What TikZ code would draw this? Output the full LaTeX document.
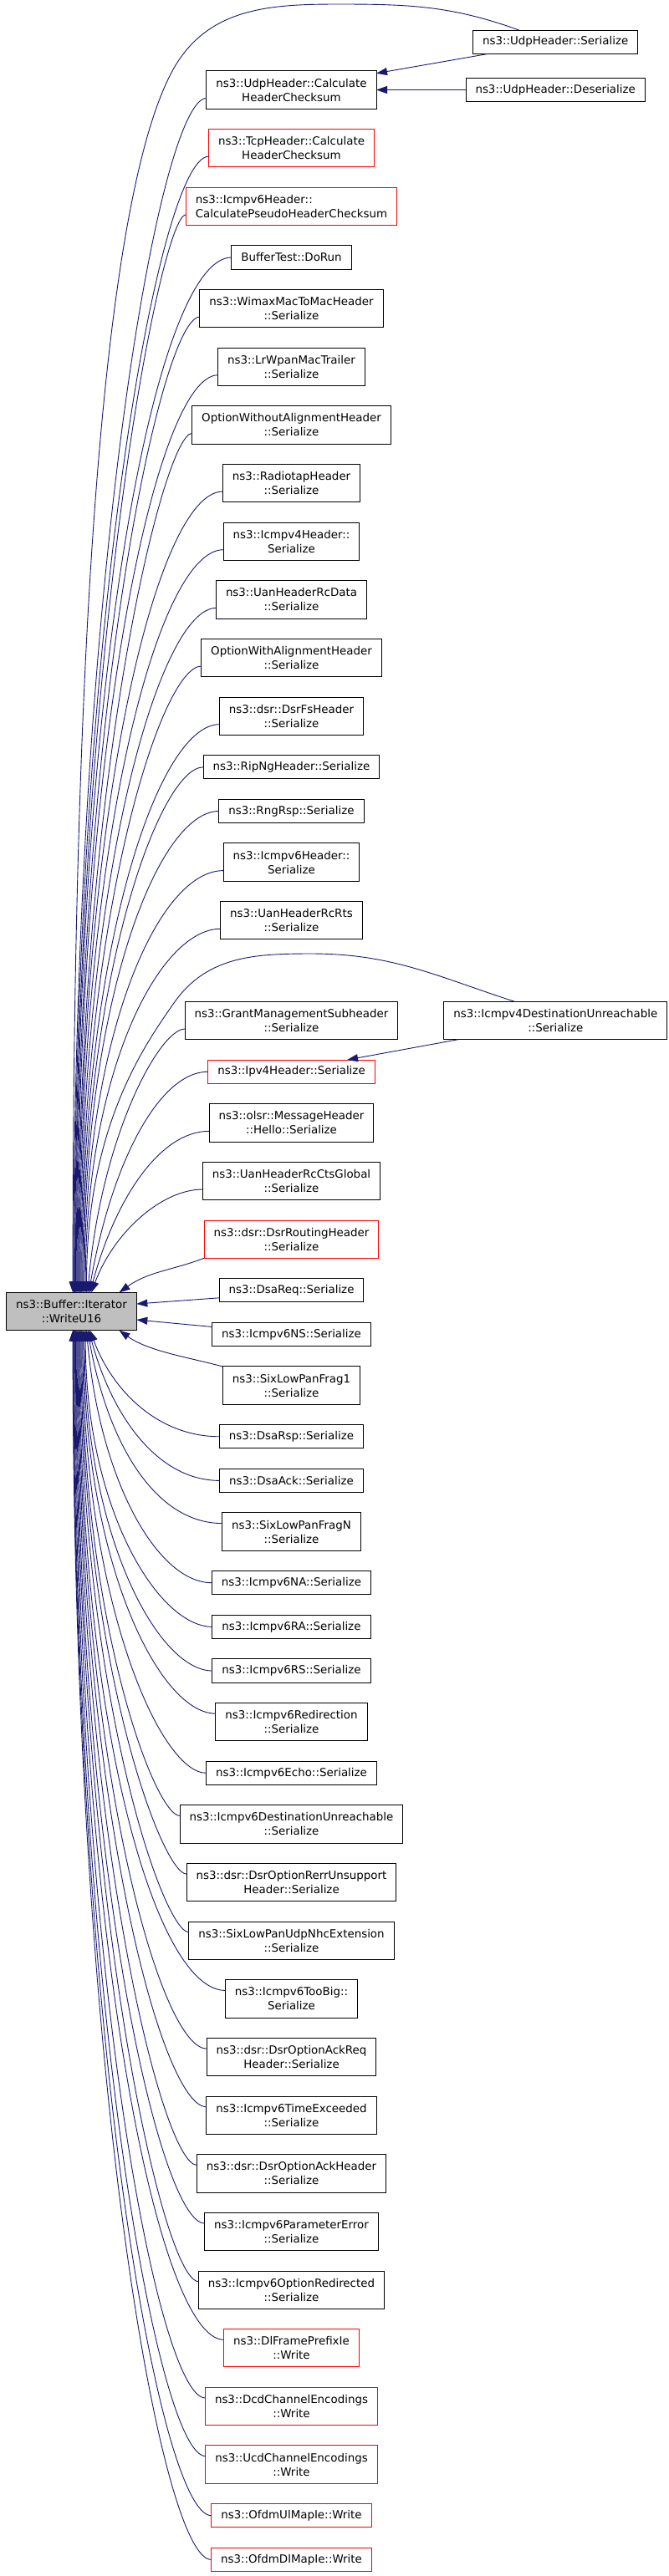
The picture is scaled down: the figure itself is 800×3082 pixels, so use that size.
\documentclass[tikz,border=0pt]{standalone}
\usepackage{fontspec}
\setmainfont{DejaVu Sans}
\usepackage{tikz}
\usetikzlibrary{arrows.meta, positioning, calc}
\definecolor{edgeblue}{HTML}{191970}
\newcommand{\callfont}{\fontsize{13.4}{17}\selectfont}
\tikzstyle{func} = [rectangle, draw=black, line width=1pt, fill=white, align=center, font=\callfont, inner xsep=11.5pt, inner ysep=0pt, outer sep=0pt, minimum height=28.3pt]
\tikzstyle{func2} = [func, minimum height=45.3pt]
\tikzstyle{trunc} = [draw=red]
\tikzstyle{current} = [fill=gray!50]
\tikzstyle{arrow} = [draw=edgeblue, line width=0.9pt, ->, >={Triangle[length=13pt,width=9pt]}]

\begin{document}
\begin{tikzpicture}[x=1pt, y=-1pt, node distance=24.35pt]
  \useasboundingbox (0,0) rectangle (800,3082);

  \node (main) [func2, current] at (85.5,1569) {ns3::Buffer::Iterator\\::WriteU16};

  % callers, top to bottom
  \node (udpcalc)     [func2] at (348.5,107.5) {ns3::UdpHeader::Calculate\\HeaderChecksum};
  \node (tcpcalc)     [func2, trunc, below=of udpcalc] {ns3::TcpHeader::Calculate\\HeaderChecksum};
  \node (pseudo)      [func2, trunc, align=left, below=of tcpcalc] {ns3::Icmpv6Header::\\CalculatePseudoHeaderChecksum};
  \node (buffertest)  [func, below=of pseudo] {BufferTest::DoRun};
  \node (wimax)       [func2, below=of buffertest] {ns3::WimaxMacToMacHeader\\::Serialize};
  \node (lrwpan)      [func2, below=of wimax] {ns3::LrWpanMacTrailer\\::Serialize};
  \node (optwithout)  [func2, below=of lrwpan] {OptionWithoutAlignmentHeader\\::Serialize};
  \node (radiotap)    [func2, below=of optwithout] {ns3::RadiotapHeader\\::Serialize};
  \node (icmpv4hdr)   [func2, below=of radiotap] {ns3::Icmpv4Header::\\Serialize};
  \node (uanrcdata)   [func2, below=of icmpv4hdr] {ns3::UanHeaderRcData\\::Serialize};
  \node (optwith)     [func2, below=of uanrcdata] {OptionWithAlignmentHeader\\::Serialize};
  \node (dsrfs)       [func2, below=of optwith] {ns3::dsr::DsrFsHeader\\::Serialize};
  \node (ripng)       [func, below=of dsrfs] {ns3::RipNgHeader::Serialize};
  \node (rngrsp)      [func, below=of ripng] {ns3::RngRsp::Serialize};
  \node (icmpv6hdr)   [func2, below=of rngrsp] {ns3::Icmpv6Header::\\Serialize};
  \node (uanrcrts)    [func2, below=of icmpv6hdr] {ns3::UanHeaderRcRts\\::Serialize};
  \node (grant)       [func2, below=74.5pt of uanrcrts] {ns3::GrantManagementSubheader\\::Serialize};
  \node (ipv4)        [func, trunc, below=of grant] {ns3::Ipv4Header::Serialize};
  \node (olsr)        [func2, below=of ipv4] {ns3::olsr::MessageHeader\\::Hello::Serialize};
  \node (uancts)      [func2, below=of olsr] {ns3::UanHeaderRcCtsGlobal\\::Serialize};
  \node (dsrrouting)  [func2, trunc, below=of uancts] {ns3::dsr::DsrRoutingHeader\\::Serialize};
  \node (dsareq)      [func, below=of dsrrouting] {ns3::DsaReq::Serialize};
  \node (icmpv6ns)    [func, below=of dsareq] {ns3::Icmpv6NS::Serialize};
  \node (frag1)       [func2, below=of icmpv6ns] {ns3::SixLowPanFrag1\\::Serialize};
  \node (dsarsp)      [func, below=of frag1] {ns3::DsaRsp::Serialize};
  \node (dsaack)      [func, below=of dsarsp] {ns3::DsaAck::Serialize};
  \node (fragn)       [func2, below=of dsaack] {ns3::SixLowPanFragN\\::Serialize};
  \node (icmpv6na)    [func, below=of fragn] {ns3::Icmpv6NA::Serialize};
  \node (icmpv6ra)    [func, below=of icmpv6na] {ns3::Icmpv6RA::Serialize};
  \node (icmpv6rs)    [func, below=of icmpv6ra] {ns3::Icmpv6RS::Serialize};
  \node (redirection) [func2, below=of icmpv6rs] {ns3::Icmpv6Redirection\\::Serialize};
  \node (echo)        [func, below=of redirection] {ns3::Icmpv6Echo::Serialize};
  \node (destunr)     [func2, below=of echo] {ns3::Icmpv6DestinationUnreachable\\::Serialize};
  \node (rerr)        [func2, below=of destunr] {ns3::dsr::DsrOptionRerrUnsupport\\Header::Serialize};
  \node (udpnhc)      [func2, below=of rerr] {ns3::SixLowPanUdpNhcExtension\\::Serialize};
  \node (toobig)      [func2, below=of udpnhc] {ns3::Icmpv6TooBig::\\Serialize};
  \node (ackreq)      [func2, below=of toobig] {ns3::dsr::DsrOptionAckReq\\Header::Serialize};
  \node (timeex)      [func2, below=of ackreq] {ns3::Icmpv6TimeExceeded\\::Serialize};
  \node (ackhdr)      [func2, below=of timeex] {ns3::dsr::DsrOptionAckHeader\\::Serialize};
  \node (paramerr)    [func2, below=of ackhdr] {ns3::Icmpv6ParameterError\\::Serialize};
  \node (optredir)    [func2, below=of paramerr] {ns3::Icmpv6OptionRedirected\\::Serialize};
  \node (dlframe)     [func2, trunc, below=of optredir] {ns3::DlFramePrefixIe\\::Write};
  \node (dcd)         [func2, trunc, below=of dlframe] {ns3::DcdChannelEncodings\\::Write};
  \node (ucd)         [func2, trunc, below=of dcd] {ns3::UcdChannelEncodings\\::Write};
  \node (ulmap)       [func, trunc, below=of ucd] {ns3::OfdmUlMapIe::Write};
  \node (dlmap)       [func, trunc, below=of ulmap] {ns3::OfdmDlMapIe::Write};

  % callers of callers
  \node (udpdes)   [func, right=107pt of udpcalc] {ns3::UdpHeader::Deserialize};
  \node (udpser)   [func, above=29pt of udpdes] {ns3::UdpHeader::Serialize};
  \node (icmpv4du) [func2, right=55pt of grant] {ns3::Icmpv4DestinationUnreachable\\::Serialize};

  \coordinate (udparc) at (405,5);
  \coordinate (udpbend) at (210,78);
  \coordinate (icmparc) at (372,1141);
  \coordinate (icmpbend) at (208,1200);

  % second level edges
  \draw [arrow] (udpser.190) -- (udpcalc.11);
  \draw [arrow] (udpdes) -- (udpcalc);
  \draw [arrow] (icmpv4du.191) -- (ipv4.12);

  % edges into the top of main
  \draw [arrow] (udpser.162) .. controls ($(udpser.162)+(-80,-29)$) and ($(udparc)+(85,0)$) .. (udparc)
    .. controls ($(udparc)+(-81,0)$) and ($(udpbend)+(42,-69)$) .. (udpbend)
    .. controls ($(udpbend)+(-77,129)$) and ($(main.north)+(1.6,-880)$) .. ([xshift=1.6pt]main.north);
  \draw [arrow] ([yshift=-10pt]udpcalc.west) .. controls ($(udpcalc.west)+(-56,10)$) and ($(main.north)+(2.4,-857)$) .. ([xshift=2.4pt]main.north);
  \draw [arrow] ([yshift=-10pt]tcpcalc.west) .. controls ($(tcpcalc.west)+(-58,10)$) and ($(main.north)+(3.2,-816)$) .. ([xshift=3.2pt]main.north);
  \draw [arrow] ([yshift=-10pt]pseudo.west) .. controls ($(pseudo.west)+(-30,10)$) and ($(main.north)+(4.1,-774)$) .. ([xshift=4.1pt]main.north);
  \draw [arrow] (buffertest.west) .. controls ($(buffertest.west)+(-90,0)$) and ($(main.north)+(4.9,-743)$) .. ([xshift=4.9pt]main.north);
  \draw [arrow] ([yshift=-10pt]wimax.west) .. controls ($(wimax.west)+(-46,10)$) and ($(main.north)+(5.7,-700)$) .. ([xshift=5.7pt]main.north);
  \draw [arrow] ([yshift=-10pt]lrwpan.west) .. controls ($(lrwpan.west)+(-74,10)$) and ($(main.north)+(6.6,-659)$) .. ([xshift=6.6pt]main.north);
  \draw [arrow] ([yshift=-10pt]optwithout.west) .. controls ($(optwithout.west)+(-34,10)$) and ($(main.north)+(7.5,-617)$) .. ([xshift=7.5pt]main.north);
  \draw [arrow] ([yshift=-10pt]radiotap.west) .. controls ($(radiotap.west)+(-79,10)$) and ($(main.north)+(8.4,-575)$) .. ([xshift=8.4pt]main.north);
  \draw [arrow] ([yshift=-10pt]icmpv4hdr.west) .. controls ($(icmpv4hdr.west)+(-79,10)$) and ($(main.north)+(9.3,-534)$) .. ([xshift=9.3pt]main.north);
  \draw [arrow] ([yshift=-10pt]uanrcdata.west) .. controls ($(uanrcdata.west)+(-68,10)$) and ($(main.north)+(10.2,-493)$) .. ([xshift=10.2pt]main.north);
  \draw [arrow] ([yshift=-10pt]optwith.west) .. controls ($(optwith.west)+(-48,10)$) and ($(main.north)+(11.2,-451)$) .. ([xshift=11.2pt]main.north);
  \draw [arrow] ([yshift=-10pt]dsrfs.west) .. controls ($(dsrfs.west)+(-74,10)$) and ($(main.north)+(12.2,-409)$) .. ([xshift=12.2pt]main.north);
  \draw [arrow] (ripng.west) .. controls ($(ripng.west)+(-52,0)$) and ($(main.north)+(13.3,-378)$) .. ([xshift=13.3pt]main.north);
  \draw [arrow] (rngrsp.west) .. controls ($(rngrsp.west)+(-74,0)$) and ($(main.north)+(14.4,-346)$) .. ([xshift=14.4pt]main.north);
  \draw [arrow] ([yshift=-10pt]icmpv6hdr.west) .. controls ($(icmpv6hdr.west)+(-79,10)$) and ($(main.north)+(15.5,-304)$) .. ([xshift=15.5pt]main.north);
  \draw [arrow] ([yshift=-10pt]uanrcrts.west) .. controls ($(uanrcrts.west)+(-74,10)$) and ($(main.north)+(16.7,-262)$) .. ([xshift=16.7pt]main.north);
  \draw [arrow] (icmpv4du.155) .. controls ($(icmpv4du.155)+(-93,-30)$) and ($(icmparc)+(98,0)$) .. (icmparc)
    .. controls ($(icmparc)+(-68,0)$) and ($(icmpbend)+(39,-56)$) .. (icmpbend)
    .. controls ($(icmpbend)+(-34,49)$) and ($(main.north)+(18,-200)$) .. ([xshift=18pt]main.north);
  \draw [arrow] ([yshift=-10pt]grant.west) .. controls ($(grant.west)+(-30,10)$) and ($(main.north)+(35.9,-189)$) .. ([xshift=19.3pt]main.north);
  \draw [arrow] (ipv4.west) .. controls ($(ipv4.west)+(-58,0)$) and ($(main.north)+(48.3,-157)$) .. ([xshift=20.7pt]main.north);
  \draw [arrow] ([yshift=-10pt]olsr.west) .. controls ($(olsr.west)+(-59,10)$) and ($(main.north)+(52.2,-112)$) .. ([xshift=22.2pt]main.north);
  \draw [arrow] ([yshift=-10pt]uancts.west) .. controls ($(uancts.west)+(-50,10)$) and ($(main.north)+(49.5,-70)$) .. ([xshift=23.8pt]main.north);
  \draw [arrow] (dsrrouting.south west) .. controls ($(dsrrouting.south west)+(-40,15)$) and ($(main.north)+(92,-25)$) .. ([xshift=57pt]main.north);

  % edges into the side of main
  \draw [arrow] ([yshift=-9pt]dsareq.west) -- ([yshift=9pt]main.east);
  \draw [arrow] ([yshift=9pt]icmpv6ns.west) -- ([yshift=-10pt]main.east);

  % edges into the bottom of main
  \draw [arrow] (frag1.north west) .. controls ($(frag1.north west)+(-41,-11)$) and ($(main.south)+(92,25)$) .. ([xshift=57pt]main.south);
  \draw [arrow] (dsarsp.west) .. controls ($(dsarsp.west)+(-74,0)$) and ($(main.south)+(48.2,71)$) .. ([xshift=22.2pt]main.south);
  \draw [arrow] (dsaack.west) .. controls ($(dsaack.west)+(-74,0)$) and ($(main.south)+(48.4,103)$) .. ([xshift=20.7pt]main.south);
  \draw [arrow] ([yshift=10pt]fragn.west) .. controls ($(fragn.west)+(-79,-10)$) and ($(main.south)+(43.4,137)$) .. ([xshift=19.3pt]main.south);
  \draw [arrow] (icmpv6na.west) .. controls ($(icmpv6na.west)+(-65,0)$) and ($(main.south)+(33.8,180)$) .. ([xshift=18pt]main.south);
  \draw [arrow] (icmpv6ra.west) .. controls ($(icmpv6ra.west)+(-65,0)$) and ($(main.south)+(16.7,213)$) .. ([xshift=16.7pt]main.south);
  \draw [arrow] (icmpv6rs.west) .. controls ($(icmpv6rs.west)+(-65,0)$) and ($(main.south)+(15.5,245)$) .. ([xshift=15.5pt]main.south);
  \draw [arrow] ([yshift=10pt]redirection.west) .. controls ($(redirection.west)+(-68,-10)$) and ($(main.south)+(14.4,276)$) .. ([xshift=14.4pt]main.south);
  \draw [arrow] (echo.west) .. controls ($(echo.west)+(-56,0)$) and ($(main.south)+(13.3,319)$) .. ([xshift=13.3pt]main.south);
  \draw [arrow] ([yshift=10pt]destunr.west) .. controls ($(destunr.west)+(-30,-10)$) and ($(main.south)+(12.2,350)$) .. ([xshift=12.2pt]main.south);
  \draw [arrow] ([yshift=10pt]rerr.west) .. controls ($(rerr.west)+(-30,-10)$) and ($(main.south)+(11.2,391)$) .. ([xshift=11.2pt]main.south);
  \draw [arrow] ([yshift=10pt]udpnhc.west) .. controls ($(udpnhc.west)+(-31,-10)$) and ($(main.south)+(10.2,433)$) .. ([xshift=10.2pt]main.south);
  \draw [arrow] ([yshift=10pt]toobig.west) .. controls ($(toobig.west)+(-83,-10)$) and ($(main.south)+(9.3,475)$) .. ([xshift=9.3pt]main.south);
  \draw [arrow] ([yshift=10pt]ackreq.west) .. controls ($(ackreq.west)+(-56,-10)$) and ($(main.south)+(8.4,516)$) .. ([xshift=8.4pt]main.south);
  \draw [arrow] ([yshift=10pt]timeex.west) .. controls ($(timeex.west)+(-54,-10)$) and ($(main.south)+(7.5,557)$) .. ([xshift=7.5pt]main.south);
  \draw [arrow] ([yshift=10pt]ackhdr.west) .. controls ($(ackhdr.west)+(-41,-10)$) and ($(main.south)+(6.6,599)$) .. ([xshift=6.6pt]main.south);
  \draw [arrow] ([yshift=10pt]paramerr.west) .. controls ($(paramerr.west)+(-53,-10)$) and ($(main.south)+(5.7,641)$) .. ([xshift=5.7pt]main.south);
  \draw [arrow] ([yshift=10pt]optredir.west) .. controls ($(optredir.west)+(-43,-10)$) and ($(main.south)+(4.9,683)$) .. ([xshift=4.9pt]main.south);
  \draw [arrow] ([yshift=10pt]dlframe.west) .. controls ($(dlframe.west)+(-79,-10)$) and ($(main.south)+(4.1,724)$) .. ([xshift=4.1pt]main.south);
  \draw [arrow] ([yshift=10pt]dcd.west) .. controls ($(dcd.west)+(-56,-10)$) and ($(main.south)+(3.2,766)$) .. ([xshift=3.2pt]main.south);
  \draw [arrow] ([yshift=10pt]ucd.west) .. controls ($(ucd.west)+(-56,-10)$) and ($(main.south)+(2.4,808)$) .. ([xshift=2.4pt]main.south);
  \draw [arrow] (ulmap.west) .. controls ($(ulmap.west)+(-62,0)$) and ($(main.south)+(2,850)$) .. ([xshift=2pt]main.south);
  \draw [arrow] (dlmap.west) .. controls ($(dlmap.west)+(-61,0)$) and ($(main.south)+(1.6,882)$) .. ([xshift=1.6pt]main.south);
\end{tikzpicture}
\end{document}
